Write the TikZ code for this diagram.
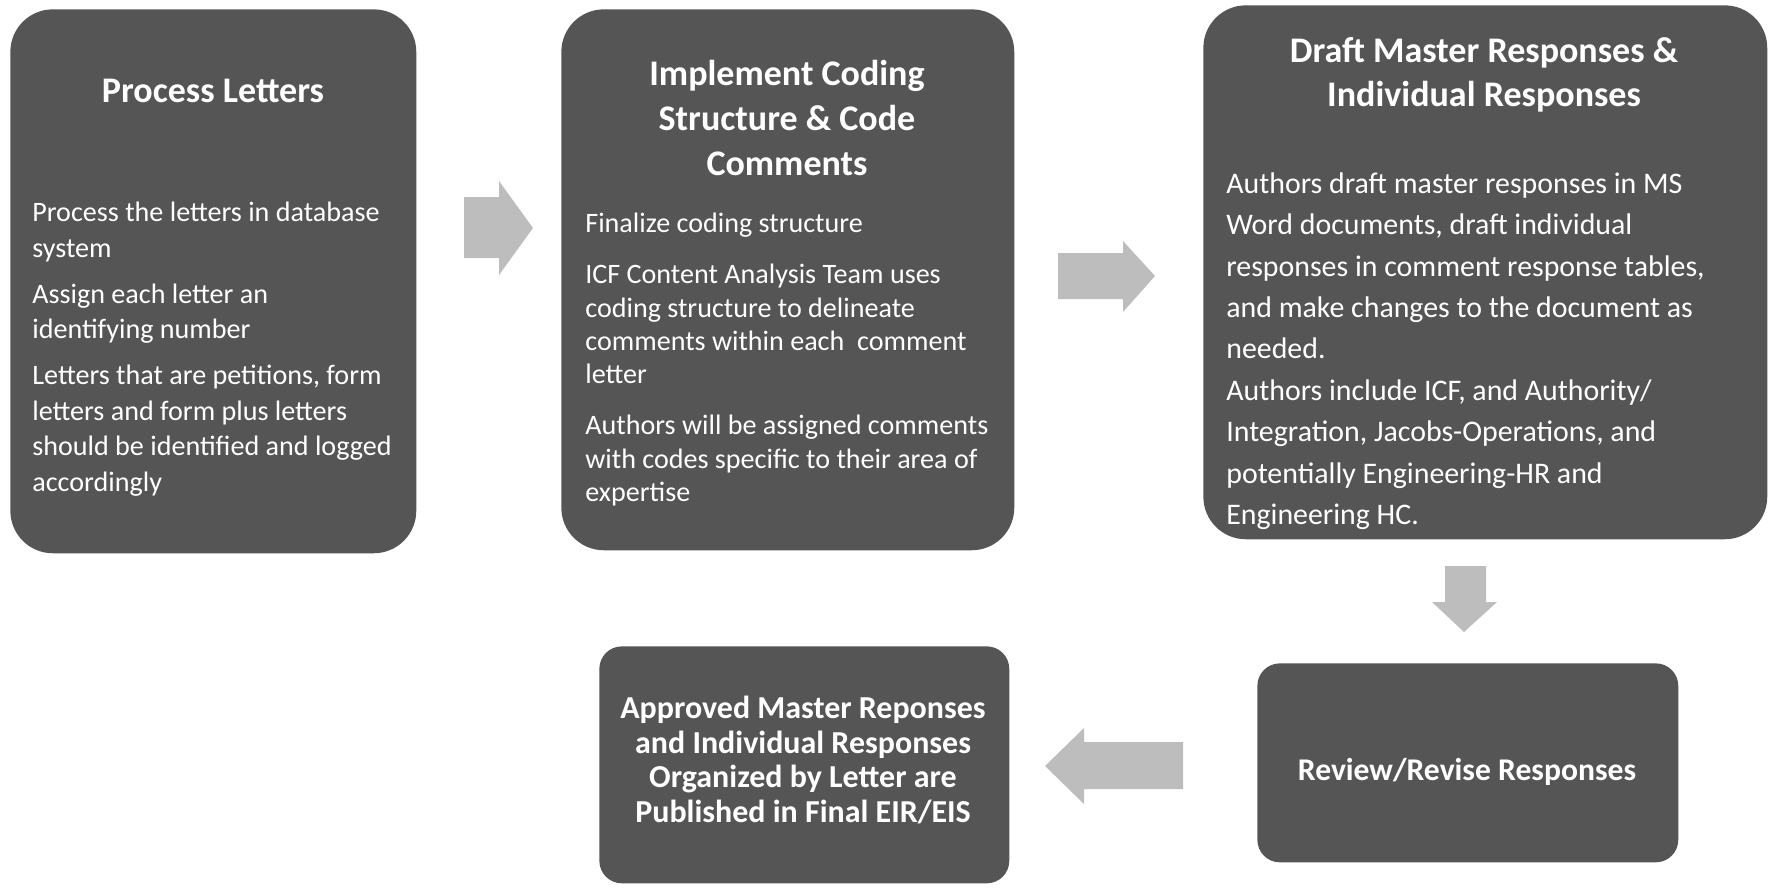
\documentclass[tikz,border=0pt]{standalone}
\usepackage{fontspec}
\setmainfont{Carlito}
\definecolor{boxgray}{HTML}{555555}
\definecolor{arrowgray}{HTML}{BDBDBD}
\tikzset{
  bigbox/.style={fill=boxgray, draw=none, rounded corners=0.85cm, inner sep=0pt, anchor=north west},
  smallbox/.style={fill=boxgray, draw=none, rounded corners=0.45cm, inner sep=0pt, anchor=north west},
  titletext/.style={text=white, align=center, inner sep=0pt, font=\bfseries},
  bodytext/.style={text=white, align=left, inner sep=0pt, anchor=north west},
  blockarrow/.style={fill=arrowgray, draw=none}
}
\begin{document}
\begin{tikzpicture}[x=0.02cm,y=-0.02cm]
\useasboundingbox (0,0) rectangle (1771,887);
% boxes
\node[bigbox, minimum width=8.12cm, minimum height=10.88cm] (b1) at (10,9) {};
\node[bigbox, minimum width=9.06cm, minimum height=10.82cm] (b2) at (561,9) {};
\node[bigbox, minimum width=11.28cm, minimum height=10.68cm] (b3) at (1203,5) {};
\node[smallbox, minimum width=8.42cm, minimum height=3.98cm] (b4) at (1257,663) {};
\node[smallbox, minimum width=8.2cm, minimum height=4.74cm] (b5) at (599,646) {};
% box 1
\node[titletext, font=\fontsize{20.5}{24}\selectfont\bfseries] (t1) at (213,91) {Process Letters};
\node[bodytext, font=\fontsize{16}{20.2}\selectfont] (d1) at (32,202) {Process the letters in database\\ system\\[6pt]
Assign each letter an\\ identifying number\\[6pt]
Letters that are petitions, form\\ letters and form plus letters\\ should be identified and logged\\ accordingly};
% box 2
\node[titletext, font=\fontsize{20.5}{25.5}\selectfont\bfseries] (t2) at (787,118) {Implement Coding\\ Structure \& Code\\ Comments};
\node[bodytext, font=\fontsize{16}{19}\selectfont] (d2) at (585,213) {Finalize coding structure\\[10pt]
ICF Content Analysis Team uses\\ coding structure to delineate\\ comments within each~ comment\\ letter\\[10pt]
Authors will be assigned comments\\ with codes specific to their area of\\ expertise};
% box 3
\node[titletext, font=\fontsize{20.5}{25}\selectfont\bfseries] (t3) at (1484,75) {Draft Master Responses \&\\ Individual Responses};
\node[bodytext, font=\fontsize{17}{23.6}\selectfont] (d3) at (1226,172) {Authors draft master responses in MS\\ Word documents, draft individual\\ responses in comment response tables,\\ and make changes to the document as\\ needed.\\
Authors include ICF, and Authority/\\ Integration, Jacobs-Operations, and\\ potentially Engineering-HR and\\ Engineering HC.};
% box 4 and 5
\node[titletext, font=\fontsize{18}{21}\selectfont\bfseries] (t4) at (1467,772) {Review/Revise Responses};
\node[titletext, font=\fontsize{18.2}{19.7}\selectfont\bfseries] (t5) at (803,760) {Approved Master Reponses\\ and Individual Responses\\ Organized by Letter are\\ Published in Final EIR/EIS};
% block arrows
\fill[blockarrow] (464,197) -- (499,197) -- (499,181) -- (533,228) -- (499,275) -- (499,258) -- (464,258) -- cycle;
\fill[blockarrow] (1058,253) -- (1123,253) -- (1123,241) -- (1155,276) -- (1123,312) -- (1123,299) -- (1058,299) -- cycle;
\fill[blockarrow] (1445,566) -- (1486,566) -- (1486,602) -- (1497,602) -- (1464,632) -- (1432,602) -- (1445,602) -- cycle;
\fill[blockarrow] (1183,742) -- (1084,742) -- (1084,728) -- (1045,766) -- (1084,804) -- (1084,789) -- (1183,789) -- cycle;
\end{tikzpicture}
\end{document}
